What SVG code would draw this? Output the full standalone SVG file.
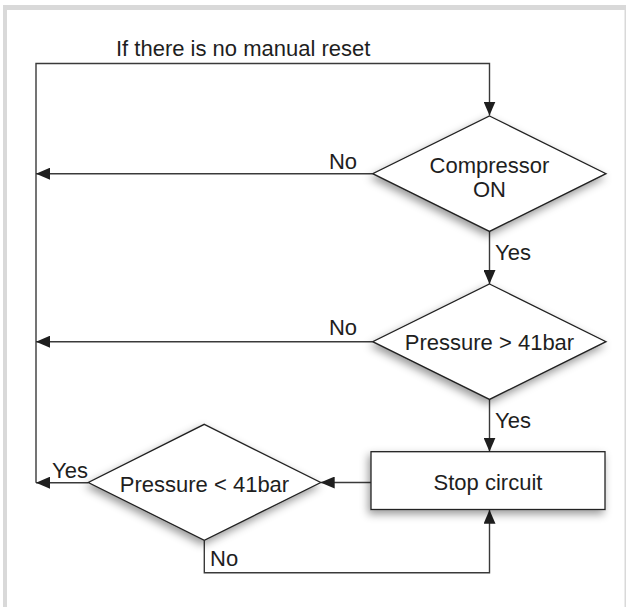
<svg xmlns="http://www.w3.org/2000/svg" width="627" height="607" viewBox="0 0 627 607">
<defs>
<style>
.shape{fill:#fff;stroke:#222;stroke-width:1.3}
.conn{fill:none;stroke:#3a3a3a;stroke-width:1.4}
.t{font-family:"Liberation Sans",Arial,sans-serif;font-size:22px;fill:#1e1e1e}
.frame{fill:#d9d9d9}
</style>
<marker id="arr" markerUnits="userSpaceOnUse" markerWidth="14" markerHeight="12" refX="14" refY="6" orient="auto">
<path d="M0,0 L14,6 L0,12 z" fill="#1e1e1e"/>
</marker>
<filter id="sh" x="-20%" y="-20%" width="140%" height="150%">
<feDropShadow dx="-2" dy="4" stdDeviation="4" flood-color="#000" flood-opacity="0.4"/>
</filter>
</defs>
<rect width="627" height="607" fill="#fff"/>
<rect class="frame" x="3" y="5" width="622" height="5"/>
<rect class="frame" x="3" y="5" width="4" height="602"/>
<rect class="frame" x="624.5" y="5" width="1.5" height="602"/>

<text class="t" x="116" y="56" font-size="23.2">If there is no manual reset</text>

<g id="connectors">
<path class="conn" d="M36,482.7 V63.5 H489.5 V115.5" marker-end="url(#arr)"/>
<path class="conn" d="M372.7,173.7 H36" marker-end="url(#arr)"/>
<path class="conn" d="M489.5,231.4 V284" marker-end="url(#arr)"/>
<path class="conn" d="M372.7,341.7 H36" marker-end="url(#arr)"/>
<path class="conn" d="M489.5,399.4 V451.7" marker-end="url(#arr)"/>
<path class="conn" d="M371,482.5 H320.7" marker-end="url(#arr)"/>
<path class="conn" d="M88.3,482.7 H36" marker-end="url(#arr)"/>
<path class="conn" d="M204.3,540.3 V572.7 H489.5 V509.8" marker-end="url(#arr)"/>
<text class="t" x="357" y="169.3" text-anchor="end">No</text>
<text class="t" x="495" y="260">Yes</text>
<text class="t" x="357" y="335" text-anchor="end">No</text>
<text class="t" x="495" y="428">Yes</text>
<text class="t" x="52" y="478">Yes</text>
<text class="t" x="210" y="565.7">No</text>
</g>

<g id="compressor-on">
<polygon class="shape" filter="url(#sh)" points="489.5,116 606,173.7 489.5,231.4 372.7,173.7"/>
<text class="t" x="489.5" y="173.3" text-anchor="middle" font-size="22.5">Compressor</text>
<text class="t" x="489.5" y="197.3" text-anchor="middle" font-size="22.5">ON</text>
</g>

<g id="pressure-high">
<polygon class="shape" filter="url(#sh)" points="489.5,284 606,341.7 489.5,399.4 372.7,341.7"/>
<text class="t" x="489.5" y="349.5" text-anchor="middle" font-size="22.5">Pressure &gt; 41bar</text>
</g>

<g id="stop-circuit">
<rect class="shape" filter="url(#sh)" x="371" y="451.7" width="234" height="57.8"/>
<text class="t" x="488" y="490" text-anchor="middle" font-size="22.5">Stop circuit</text>
</g>

<g id="pressure-low">
<polygon class="shape" filter="url(#sh)" points="204.3,424.3 320.7,482.5 204.3,540.3 88.3,482.5"/>
<text class="t" x="204.5" y="491.7" text-anchor="middle" font-size="22.5">Pressure &lt; 41bar</text>
</g>
</svg>
